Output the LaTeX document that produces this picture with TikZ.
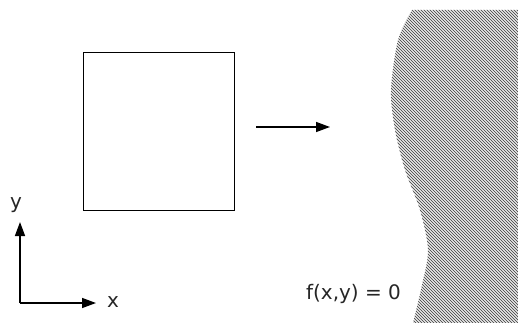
\documentclass[tikz,border=0pt]{standalone}
\usepackage{fontspec}
\setmainfont{DejaVu Sans}
\usetikzlibrary{arrows.meta,positioning}

\begin{document}
\begin{tikzpicture}[
  x=1pt,y=-1pt,
  box/.style={draw,line width=1pt,minimum width=151pt,minimum height=157pt,inner sep=0pt},
  axis/.style={-{Triangle[length=14pt,width=10pt]},line width=1.4pt},
  lbl/.style={font=\fontsize{20}{22}\selectfont,text=black!85,inner sep=0pt},
  hatch/.style={gray!70!black,line width=0.9pt}]

  \useasboundingbox (0,0) rectangle (518,323);

  % the square and the map arrow
  \node[box] (square) at (158.5,131.5) {};
  \coordinate (mapfrom) at (256,127);
  \coordinate (mapto) at (330,127);
  \draw[axis] (mapfrom) -- (mapto);

  % axes
  \coordinate (origin) at (20,303);
  \coordinate (ytip) at (20,222);
  \coordinate (xtip) at (96,303);
  \draw[axis] (origin) -- (ytip);
  \draw[axis] (origin) -- (xtip);
  \node[lbl] (ylabel) at (16,205) {y};
  \node[lbl] (xlabel) at (113,302) {x};

  % hatched region
  \begin{scope}
    \clip plot[smooth] coordinates {(412,10) (398,40) (391,90) (395,130) (405,170) (420,210) (428,250) (422,285) (413,323)}
      -- (518,323) -- (518,10) -- cycle;
    \foreach \k in {60,63,...,520}
      \draw[hatch] (\k,0) -- ++(340,340);
  \end{scope}
  \node[lbl] (curve) at (353.5,294) {f(x,y) = 0};
\end{tikzpicture}
\end{document}
